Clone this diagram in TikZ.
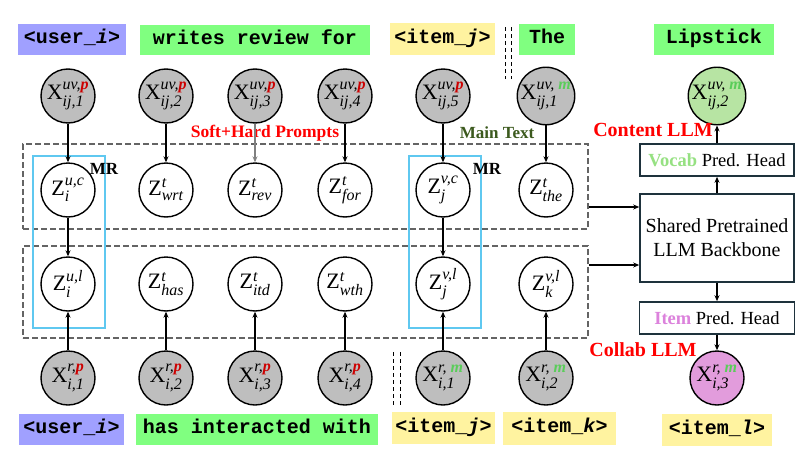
\documentclass[tikz,border=0pt]{standalone}
\usepackage{fontspec}
\usepackage{amsmath}
\setmainfont{Liberation Serif}
\setmonofont{Liberation Mono}
\DeclareMathSizes{22}{22}{16}{12}
\usetikzlibrary{arrows.meta}
\definecolor{cUser}{RGB}{160,160,255}
\definecolor{cGreen}{RGB}{128,255,128}
\definecolor{cYellow}{RGB}{255,243,160}
\definecolor{cGray}{RGB}{190,190,190}
\definecolor{cLip}{RGB}{183,228,163}
\definecolor{cPink}{RGB}{226,156,220}
\definecolor{cCyan}{RGB}{95,200,240}
\definecolor{cDash}{RGB}{100,100,100}
\definecolor{cRedP}{RGB}{205,0,0}
\definecolor{cGreenM}{RGB}{90,205,90}
\definecolor{cMain}{RGB}{60,90,30}
\definecolor{cVocab}{RGB}{150,225,130}
\definecolor{cItem}{RGB}{220,130,220}
\definecolor{cBox}{RGB}{30,50,60}
\newcommand{\pp}{\textcolor{cRedP}{\textbf{\textit{p}}}}
\newcommand{\mm}{\textcolor{cGreenM}{\textbf{\textit{m}}}}
\newcommand{\XX}[2]{$\textup{X}^{\textit{#1}}_{\textit{#2}}$}
\newcommand{\ZZ}[2]{$\textup{Z}^{\textit{#1}}_{\textit{#2}}$}
\begin{document}
\begin{tikzpicture}[x=1pt,y=-1pt,
  tok/.style={font=\ttfamily\bfseries\fontsize{20}{22}\selectfont, inner sep=0pt, text height=11pt, text depth=3pt},
  xc/.style={circle, draw, line width=1.4pt, minimum size=54pt, inner sep=0pt, fill=cGray, font=\fontsize{22}{24}\selectfont},
  zc/.style={circle, draw, line width=1.4pt, minimum size=54pt, inner sep=0pt, fill=white, font=\fontsize{22}{24}\selectfont},
  arr/.style={-{Stealth[length=6pt,width=5pt]}, line width=1.2pt},
  garr/.style={-{Stealth[length=6pt,width=5pt]}, line width=1.2pt, draw=gray},
  dbox/.style={draw=cDash, dashed, dash pattern=on 6pt off 3pt, line width=1.5pt, inner sep=0pt},
  mrbox/.style={draw=cCyan, line width=2pt, inner sep=0pt},
  hbox/.style={draw=cBox, line width=1.6pt, inner sep=0pt, fill=white},
  dd/.style={line width=1pt, dash pattern=on 4pt off 3pt},
  lbl/.style={font=\bfseries\fontsize{18}{20}\selectfont, inner sep=0pt}
]
\useasboundingbox (0,0) rectangle (809,466);
% dashed boxes
\node[dbox, minimum width=565pt, minimum height=85pt] (box1) at (305.5,186.5) {};
\node[dbox, minimum width=565pt, minimum height=92pt] (box2) at (305.5,292) {};
% MR boxes
\node[mrbox, minimum width=72pt, minimum height=172pt] (mr1) at (69,242) {};
\node[mrbox, minimum width=72pt, minimum height=172pt] (mr2) at (445,242) {};
\node[font=\bfseries\fontsize{17}{19}\selectfont, inner sep=0pt] (mrl1) at (104,169) {MR};
\node[font=\bfseries\fontsize{17}{19}\selectfont, inner sep=0pt] (mrl2) at (487,169) {MR};
% top tokens
\node[tok, fill=cUser, minimum width=108pt, minimum height=31pt] (u1) at (72,39.5) {<user\_\textit{i}>};
\node[tok, fill=cGreen, minimum width=230pt, minimum height=30pt] (w1) at (255,40) {writes review for};
\node[tok, fill=cYellow, minimum width=105pt, minimum height=32pt] (ij1) at (442.5,39) {<item\_\textit{j}>};
\node[tok, fill=cGreen, minimum width=56pt, minimum height=31pt] (the) at (547,39.5) {The};
\node[tok, fill=cGreen, minimum width=120pt, minimum height=31pt] (lip) at (714,39.5) {Lipstick};
% bottom tokens
\node[tok, fill=cUser, minimum width=105pt, minimum height=31pt] (u2) at (71.5,429.5) {<user\_\textit{i}>};
\node[tok, fill=cGreen, minimum width=242pt, minimum height=31pt] (hi) at (257,429.5) {has interacted with};
\node[tok, fill=cYellow, minimum width=103pt, minimum height=32pt] (ij2) at (443.5,428) {<item\_\textit{j}>};
\node[tok, fill=cYellow, minimum width=113pt, minimum height=33pt] (ik) at (559.5,428.5) {<item\_\textit{k}>};
\node[tok, fill=cYellow, minimum width=110pt, minimum height=32pt] (il) at (717,430) {<item\_\textit{l}>};
% double dashed separators
\coordinate (s1a) at (505,27); \coordinate (s1b) at (505,79);
\coordinate (s2a) at (511,27); \coordinate (s2b) at (511,79);
\coordinate (s3a) at (393,352); \coordinate (s3b) at (393,405);
\coordinate (s4a) at (400,352); \coordinate (s4b) at (400,405);
\draw[dd] (s1a) -- (s1b); \draw[dd] (s2a) -- (s2b);
\draw[dd] (s3a) -- (s3b); \draw[dd] (s4a) -- (s4b);
% top circles
\node[xc] (t1) at (68,96) {\XX{uv,\pp}{ij,1}};
\node[xc] (t2) at (166,96) {\XX{uv,\pp}{ij,2}};
\node[xc] (t3) at (255,96) {\XX{uv,\pp}{ij,3}};
\node[xc] (t4) at (345,96) {\XX{uv,\pp}{ij,4}};
\node[xc] (t5) at (443,96) {\XX{uv,\pp}{ij,5}};
\node[xc] (t6) at (546,96) {\XX{uv, \mm}{ij,1}};
\node[xc, fill=cLip] (t7) at (717,96) {\XX{uv, \mm}{ij,2}};
% z row 1
\node[zc] (c1) at (68,190) {\ZZ{u,c}{i}};
\node[zc] (c2) at (166,190) {\ZZ{t}{wrt}};
\node[zc] (c3) at (255,190) {\ZZ{t}{rev}};
\node[zc] (c4) at (345,190) {\ZZ{t}{for}};
\node[zc] (c5) at (443,190) {\ZZ{v,c}{j}};
\node[zc] (c6) at (546,190) {\ZZ{t}{the}};
% z row 2
\node[zc] (l1) at (68,284) {\ZZ{u,l}{i}};
\node[zc] (l2) at (166,284) {\ZZ{t}{has}};
\node[zc] (l3) at (255,284) {\ZZ{t}{itd}};
\node[zc] (l4) at (345,284) {\ZZ{t}{wth}};
\node[zc] (l5) at (443,284) {\ZZ{v,l}{j}};
\node[zc] (l6) at (546,284) {\ZZ{v,l}{k}};
% bottom circles
\node[xc] (b1) at (68,378) {\XX{r,\pp}{i,1}};
\node[xc] (b2) at (166,378) {\XX{r,\pp}{i,2}};
\node[xc] (b3) at (255,378) {\XX{r,\pp}{i,3}};
\node[xc] (b4) at (345,378) {\XX{r,\pp}{i,4}};
\node[xc] (b5) at (443,378) {\XX{r, \mm}{i,1}};
\node[xc] (b6) at (546,378) {\XX{r, \mm}{i,2}};
\node[xc, fill=cPink] (b7) at (717,378) {\XX{r, \mm}{i,3}};
% right boxes
\node[hbox, minimum width=154pt, minimum height=32pt, font=\fontsize{18.5}{20}\selectfont] (vh) at (717,160) {\textcolor{cVocab}{\textbf{Vocab}} Pred. Head};
\node[hbox, minimum width=154pt, minimum height=88pt, align=center, font=\fontsize{20}{24}\selectfont] (sb) at (717,238) {Shared Pretrained\\LLM Backbone};
\node[hbox, minimum width=155pt, minimum height=32pt, font=\fontsize{18.5}{20}\selectfont] (ih) at (717,318) {\textcolor{cItem}{\textbf{Item}} Pred. Head};
% labels
\node[lbl, text=red, font=\bfseries\fontsize{17.5}{20}\selectfont] (shp) at (265,133) {Soft+Hard Prompts};
\node[lbl, text=cMain, font=\bfseries\fontsize{17}{20}\selectfont] (mt) at (497,133) {Main Text};
\node[lbl, text=red, font=\bfseries\fontsize{20}{22}\selectfont] (cl) at (653,130) {Content LLM};
\node[lbl, text=red, font=\bfseries\fontsize{20}{22}\selectfont] (col) at (643,350) {Collab LLM};
% arrows top -> row1
\draw[arr] (t1) -- (c1);
\draw[arr] (t2) -- (c2);
\draw[garr] (t3) -- (c3);
\draw[arr] (t4) -- (c4);
\draw[arr] (t5) -- (c5);
\draw[arr] (t6) -- (c6);
% row1 -> row2
\draw[arr] (c1) -- (l1);
\draw[arr] (c5) -- (l5);
% bottom -> row2
\draw[arr] (b1) -- (l1);
\draw[arr] (b2) -- (l2);
\draw[arr] (b3) -- (l3);
\draw[arr] (b4) -- (l4);
\draw[arr] (b5) -- (l5);
\draw[arr] (b6) -- (l6);
% boxes -> backbone
\draw[arr] ([yshift=-20.5pt]box1.east) -- ([yshift=-20.5pt]box1.east -| sb.west);
\draw[arr] ([yshift=27pt]box2.east) -- ([yshift=27pt]box2.east -| sb.west);
% right column
\draw[arr] (sb) -- (vh);
\draw[arr] (vh) -- (t7);
\draw[arr] (sb) -- (ih);
\draw[arr] (ih) -- (b7);
\end{tikzpicture}
\end{document}
